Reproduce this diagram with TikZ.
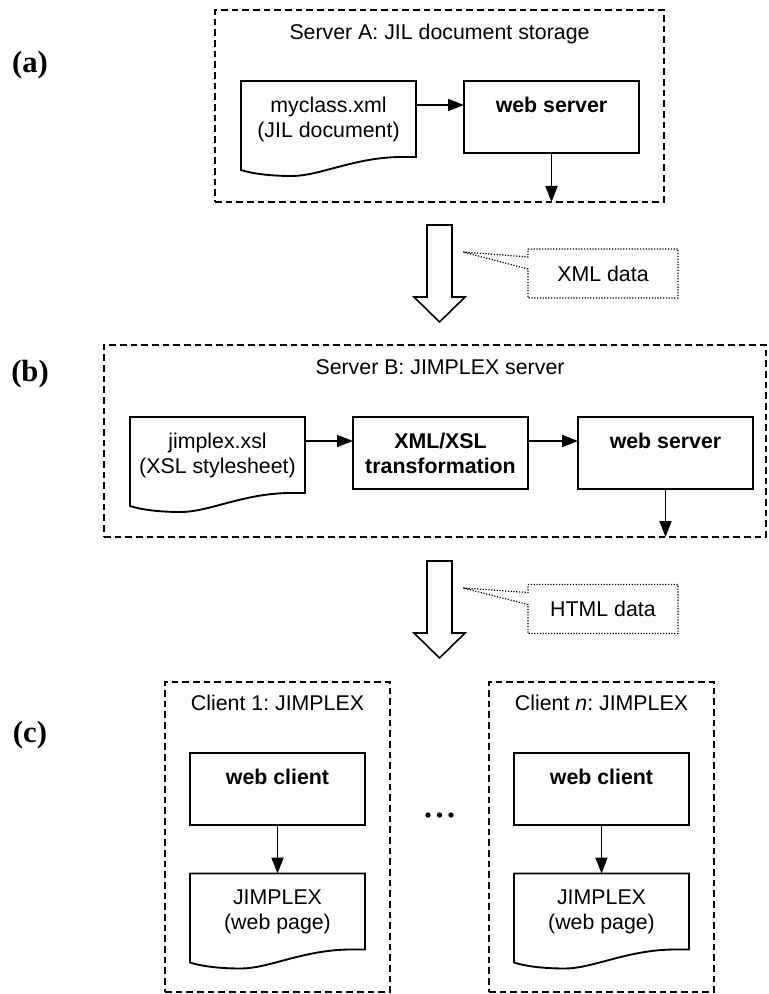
\documentclass[tikz,border=0pt]{standalone}
\usepackage{fontspec}
\setmainfont{Liberation Sans}
\newfontfamily\labfont{Liberation Serif}
\usetikzlibrary{arrows.meta,calc}
\frenchspacing
\newcommand\drawdoc[1]{%
  \draw[line width=1.4pt, line join=miter] (#1.south east) -- (#1.north east) -- (#1.north west) -- ($(#1.south west)+(0,13)$)
    .. controls +(9,3) and +(-25,0) .. ($(#1.south west)+(51,19)$)
    .. controls +(28,0) and +(-47,0) .. ($(#1.south east)+(-14,0)$) -- cycle;}
\newcommand\drawcallout[2]{%
  \draw[dotline] (#1.north west) -- (#1.north east) -- (#1.south east) -- (#1.south west)
    -- ($(#1.north west)+(0,20)$) -- (#2) -- ($(#1.north west)+(0,8)$) -- cycle;}
\newcommand\drawbigarrow[1]{%
  \draw[bigarr] (427,#1) -- (452,#1) -- (452,#1+72) -- (465,#1+72) -- (439.5,#1+97) -- (414,#1+72) -- (427,#1+72) -- cycle;}
\begin{document}
\begin{tikzpicture}[x=0.75pt,y=-0.75pt,
  every node/.style={inner sep=0pt,outer sep=0pt},
  txt/.style={font=\fontsize{16}{18.75}\selectfont, align=center},
  lab/.style={font=\labfont\bfseries\fontsize{23}{27}\selectfont},
  container/.style 2 args={draw, line width=1.2pt, dash pattern=on 5pt off 3pt, minimum width=#1*0.75pt, minimum height=#2*0.75pt},
  procbox/.style={draw, line width=1.4pt, fill=white, minimum width=131.25pt, minimum height=54pt, align=center, font=\fontsize{16}{18.75}\selectfont\bfseries},
  docnode/.style={minimum width=131.25pt, minimum height=57pt, txt},
  callnode/.style={minimum width=112.5pt, minimum height=36.75pt, txt},
  arr/.style={line width=1.4pt, -{Triangle[length=12pt,width=9pt]}},
  bigarr/.style={line width=1.2pt, line join=miter},
  dotline/.style={line width=0.9pt, dash pattern=on 0.9pt off 1.2pt},
]
\useasboundingbox (0,0) rectangle (768,994);

% labels
\node[lab] (la) at (30,65) {(a)};
\node[lab] (lb) at (30,374) {(b)};
\node[lab] (lc) at (30,735) {(c)};

% Server A
\node[container={449}{192}] (srvA) at (439.5,106) {};
\node[txt, anchor=base] (tA) at (439.5,40) {Server A: JIL document storage};
\node[docnode] (myc) at (328.5,119) {myclass.xml\\(JIL document)};
\drawdoc{myc}
\node[procbox] (wsA) at (551.5,117) {web server\\~};
\draw[arr] ($(myc.north east)+(0,24)$) -- ($(wsA.north west)+(0,24)$);
\draw[arr] (wsA.south) -- (wsA.south |- srvA.south);

% transfer 1
\drawbigarrow{225}
\node[callnode] (cX) at (603,273.5) {XML data};
\coordinate (tX) at (463,252);
\drawcallout{cX}{tX}

% Server B
\node[container={662}{192}] (srvB) at (435,441) {};
\node[txt, anchor=base] (tB) at (440,374) {Server B: JIMPLEX server};
\node[docnode] (jim) at (217.5,455) {jimplex.xsl\\(XSL stylesheet)};
\drawdoc{jim}
\node[procbox] (xsl) at (440.5,453) {XML/XSL\\transformation};
\node[procbox] (wsB) at (665.5,453) {web server\\~};
\draw[arr] ($(jim.north east)+(0,24)$) -- ($(xsl.north west)+(0,24)$);
\draw[arr] ($(xsl.north east)+(0,24)$) -- ($(wsB.north west)+(0,24)$);
\draw[arr] (wsB.south) -- (wsB.south |- srvB.south);

% transfer 2
\drawbigarrow{561}
\node[callnode] (cH) at (603,609) {HTML data};
\coordinate (tH) at (463,588);
\drawcallout{cH}{tH}

% Client 1
\node[container={225}{310}] (c1) at (277.5,837) {};
\node[txt, anchor=base] (tc1) at (277.5,710) {Client 1: JIMPLEX};
\node[procbox] (wc1) at (277.5,789) {web client\\~};
\node[docnode] (pg1) at (277.5,911.5) {JIMPLEX\\(web page)};
\drawdoc{pg1}
\draw[arr] (wc1) -- (pg1);

% Client n
\node[container={225}{310}] (cn) at (601.5,837) {};
\node[txt, anchor=base] (tcn) at (601.5,710) {Client \textit{n}: JIMPLEX};
\node[procbox] (wcn) at (601.5,789) {web client\\~};
\node[docnode] (pgn) at (601.5,911.5) {JIMPLEX\\(web page)};
\drawdoc{pgn}
\draw[arr] (wcn) -- (pgn);

% ellipsis
\fill (428,815) circle (2pt);
\fill (439.5,815) circle (2pt);
\fill (451,815) circle (2pt);
\end{tikzpicture}
\end{document}
